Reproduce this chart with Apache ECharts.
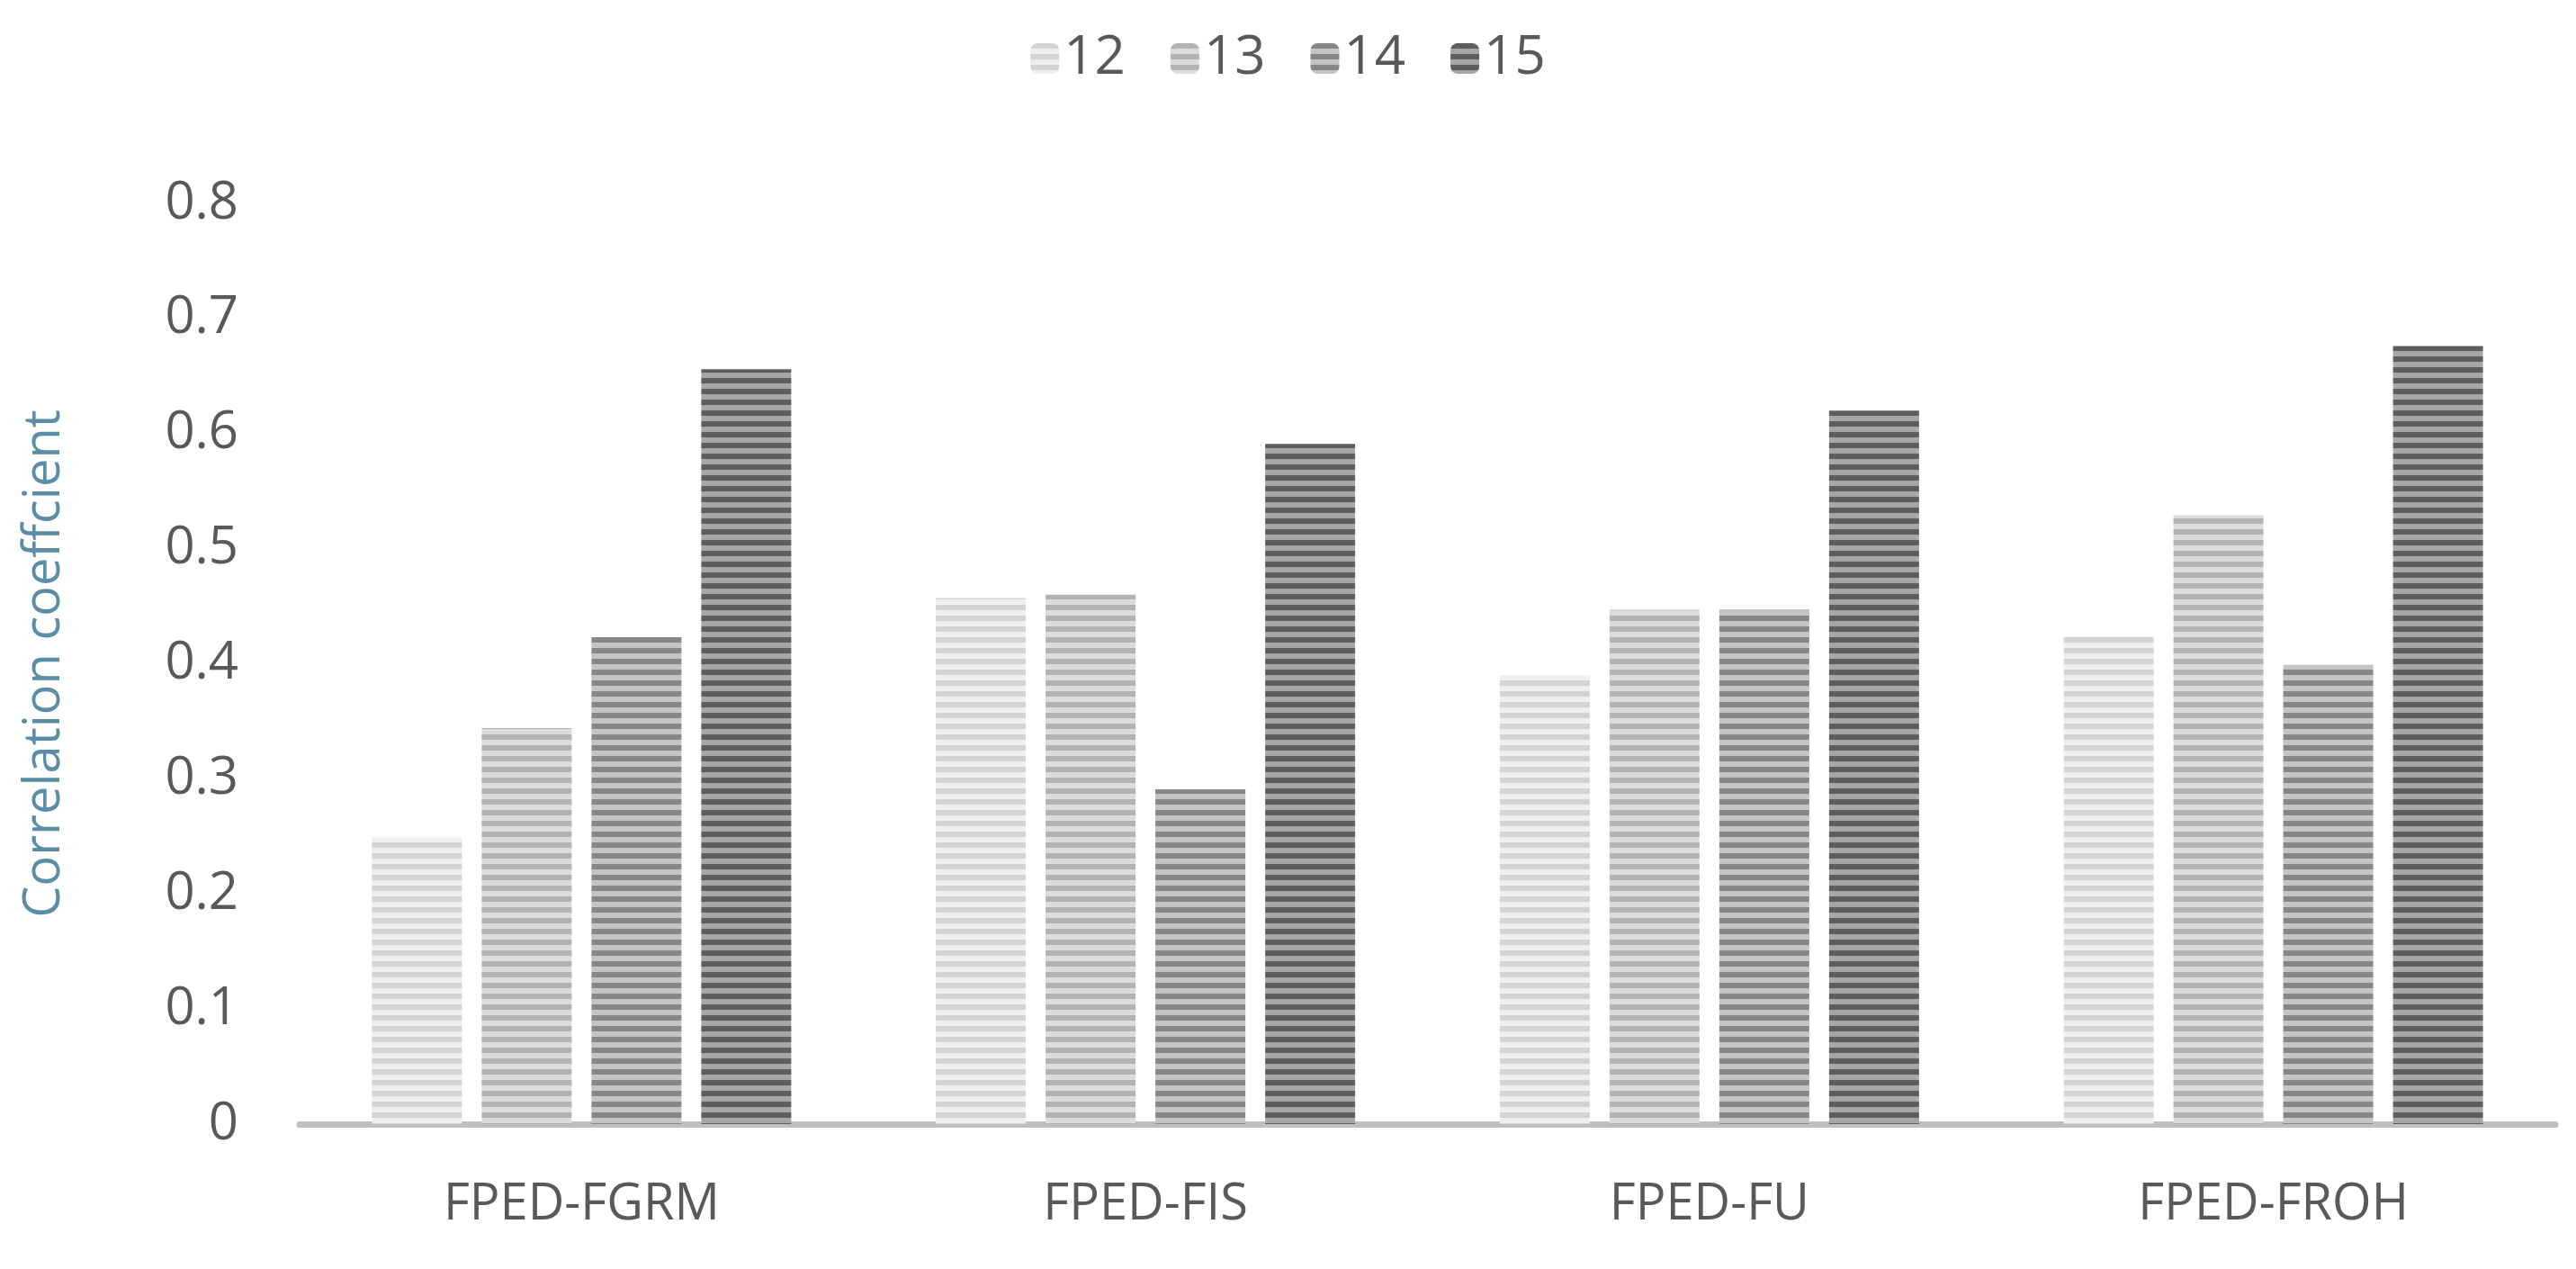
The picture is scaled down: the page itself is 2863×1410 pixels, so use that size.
<!DOCTYPE html>
<html>
<head>
<meta charset="utf-8">
<script src="https://cdn.jsdelivr.net/npm/echarts@6/dist/echarts.min.js"></script>
<style>html,body{margin:0;padding:0;background:#fff}#chart{width:2863px;height:1410px}</style>
</head>
<body>
<div id="chart"></div>
<script>
// 数据
const categories = ['FPED-FGRM', 'FPED-FIS', 'FPED-FU', 'FPED-FROH'];
const seriesNames = ['12', '13', '14', '15'];
const values12 = [0.249, 0.457, 0.390, 0.424];
const values13 = [0.344, 0.460, 0.447, 0.529];
const values14 = [0.423, 0.291, 0.447, 0.399];
const values15 = [0.656, 0.591, 0.620, 0.676];
const yTicks = [0, 0.1, 0.2, 0.3, 0.4, 0.5, 0.6, 0.7, 0.8];

// 横条纹填充
function stripes(dark, light) {
    let c = document.createElement('canvas');
    c.width = 12; c.height = 12;
    let ctx = c.getContext('2d');
    ctx.fillStyle = light; ctx.fillRect(0, 0, 12, 12);
    ctx.fillStyle = dark; ctx.fillRect(0, 0, 12, 6);
    return {image: c, repeat: 'repeat'};
}
const fills = [
    stripes('#d4d4d4', '#efefef'),
    stripes('#b3b3b3', '#dcdcdc'),
    stripes('#878787', '#c4c4c4'),
    stripes('#5e5e5e', '#a6a6a6')
];
const allValues = [values12, values13, values14, values15];

let chart = echarts.init(document.getElementById('chart'));
chart.setOption({
    animation: false,
    textStyle: {fontFamily: 'Open Sans'},
    legend: {
        top: 30,
        left: 'center',
        itemWidth: 32,
        itemHeight: 34,
        itemGap: 50,
        textStyle: {fontSize: 60, color: '#595959', fontFamily: 'Open Sans'},
        data: seriesNames
    },
    grid: {left: 333, right: 23, top: 226, bottom: 161},
    xAxis: {
        type: 'category',
        data: categories,
        axisTick: {show: false},
        axisLine: {lineStyle: {color: '#bfbfbf', width: 7}},
        axisLabel: {fontSize: 56, color: '#595959', margin: 62}
    },
    yAxis: {
        type: 'value',
        min: 0, max: 0.8, interval: 0.1,
        name: 'Correlation coeffcient',
        nameLocation: 'middle',
        nameGap: 255,
        nameTextStyle: {fontSize: 56, color: '#5b8ea6', fontFamily: 'Open Sans'},
        splitLine: {show: false},
        axisLine: {show: false},
        axisTick: {show: false},
        axisLabel: {
            fontSize: 58, color: '#595959', margin: 68,
            formatter: v => yTicks.includes(Math.round(v * 10) / 10) ? String(Math.round(v * 10) / 10) : ''
        }
    },
    series: seriesNames.map((name, i) => ({
        name: name,
        type: 'bar',
        data: allValues[i],
        barWidth: 100,
        barGap: '22%',
        itemStyle: {color: fills[i]}
    }))
});
</script>
</body>
</html>
